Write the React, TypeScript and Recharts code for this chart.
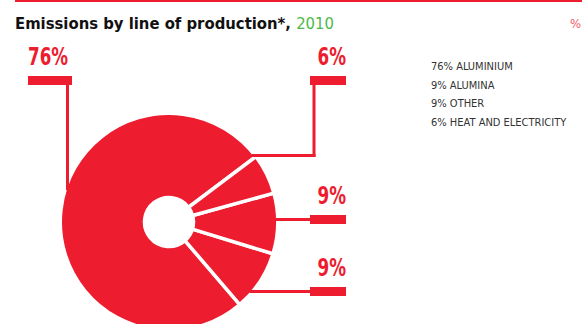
import React from 'react';
import { PieChart, Pie, Cell } from 'recharts';

const categories = ['ALUMINIUM', 'ALUMINA', 'OTHER', 'HEAT AND ELECTRICITY'];
const shares = [76, 9, 9, 6];
const titleText = 'Emissions by line of production*, ';
const titleYear = '2010';

const RED = '#ed1c2e';
const GREEN = '#4db848';
const FONT = '"Liberation Sans Narrow", "DejaVu Sans Condensed", "Roboto", sans-serif';

const chartData = categories.map((name, i) => ({ name, value: shares[i] }));

// where each slice's callout sits (bar box + leader line)
const calloutLayout = [
  { side: 'left', barX: 28, barW: 44, barY: 76, lineX: 67.5 },
  { side: 'right', barX: 310, barW: 36, barY: 287 },
  { side: 'right', barX: 310, barW: 36, barY: 215 },
  { side: 'right', barX: 310, barW: 36, barY: 76, lineX: 314, lineY: 155.5 },
];

const VISIBLE_R = 107;

const renderCallout = (props: any) => {
  const { cx, cy, index, value } = props;
  const c = calloutLayout[index];
  if (!c) return null;
  const barH = 9;
  const textY = c.barY - 11;
  const parts: React.ReactNode[] = [];

  if (c.side === 'left') {
    const dx = c.lineX - cx;
    const edgeY = cy - Math.sqrt(VISIBLE_R * VISIBLE_R - dx * dx) + 2;
    parts.push(<line key="v" x1={c.lineX} y1={c.barY + barH} x2={c.lineX} y2={edgeY} stroke={RED} strokeWidth={3} />);
  } else if (c.lineY !== undefined) {
    const dy = c.lineY - cy;
    const edgeX = cx + Math.sqrt(VISIBLE_R * VISIBLE_R - dy * dy) - 1;
    parts.push(<line key="v" x1={c.lineX} y1={c.barY + barH} x2={c.lineX} y2={c.lineY + 1.5} stroke={RED} strokeWidth={3} />);
    parts.push(<line key="h" x1={edgeX} y1={c.lineY} x2={c.lineX + 1.5} y2={c.lineY} stroke={RED} strokeWidth={3} />);
  } else {
    const ly = c.barY + barH / 2;
    const dy = ly - cy;
    const edgeX = cx + Math.sqrt(VISIBLE_R * VISIBLE_R - dy * dy) - 1;
    parts.push(<line key="h" x1={edgeX} y1={ly} x2={c.barX} y2={ly} stroke={RED} strokeWidth={3} />);
  }

  const label = `${value}%`;
  return (
    <g key={`callout-${index}`}>
      {parts}
      <rect x={c.barX} y={c.barY} width={c.barW} height={barH} fill={RED} />
      <text
        x={c.side === 'left' ? c.barX : c.barX + c.barW}
        y={textY}
        textAnchor={c.side === 'left' ? 'start' : 'end'}
        fill={RED}
        fontFamily={FONT}
        fontWeight="bold"
        fontSize={25}
        textLength={String(value).length * 11.5 + 17}
        lengthAdjust="spacingAndGlyphs"
      >
        {label}
      </text>
    </g>
  );
};

const App: React.FC = () => {
  return (
    <div style={{ position: 'absolute', left: 0, top: 0, width: 582, height: 324, background: '#fff' }}>
      <PieChart width={582} height={324} style={{ position: 'absolute', left: 0, top: 0 }}>
        <Pie
          data={chartData}
          dataKey="value"
          nameKey="name"
          cx={164}
          cy={217}
          innerRadius={24.5}
          outerRadius={VISIBLE_R + 1.75}
          startAngle={37}
          endAngle={397}
          stroke="#fff"
          strokeWidth={3.5}
          label={renderCallout}
          labelLine={false}
          isAnimationActive={false}
        >
          {chartData.map((d) => (
            <Cell key={d.name} fill={RED} />
          ))}
        </Pie>
      </PieChart>
      <svg width={582} height={324} style={{ position: 'absolute', left: 0, top: 0, pointerEvents: 'none' }}>
        <rect x={15} y={0} width={567} height={2} fill={RED} />
        <text x={15} y={28.5} fontFamily={FONT} fontSize={16.5} fontWeight="bold" fill="#111">
          {titleText}
          <tspan fill={GREEN} fontWeight="normal">{titleYear}</tspan>
        </text>
        <text x={570} y={28} fontFamily={FONT} fontSize={13} fill={RED} opacity={0.75}>%</text>
        {categories.map((name, i) => (
          <text key={name} x={431} y={70 + i * 18.6} fontFamily={FONT} fontSize={11} fill="#333">
            {shares[i]}% {name}
          </text>
        ))}
      </svg>
    </div>
  );
};

export default App;
